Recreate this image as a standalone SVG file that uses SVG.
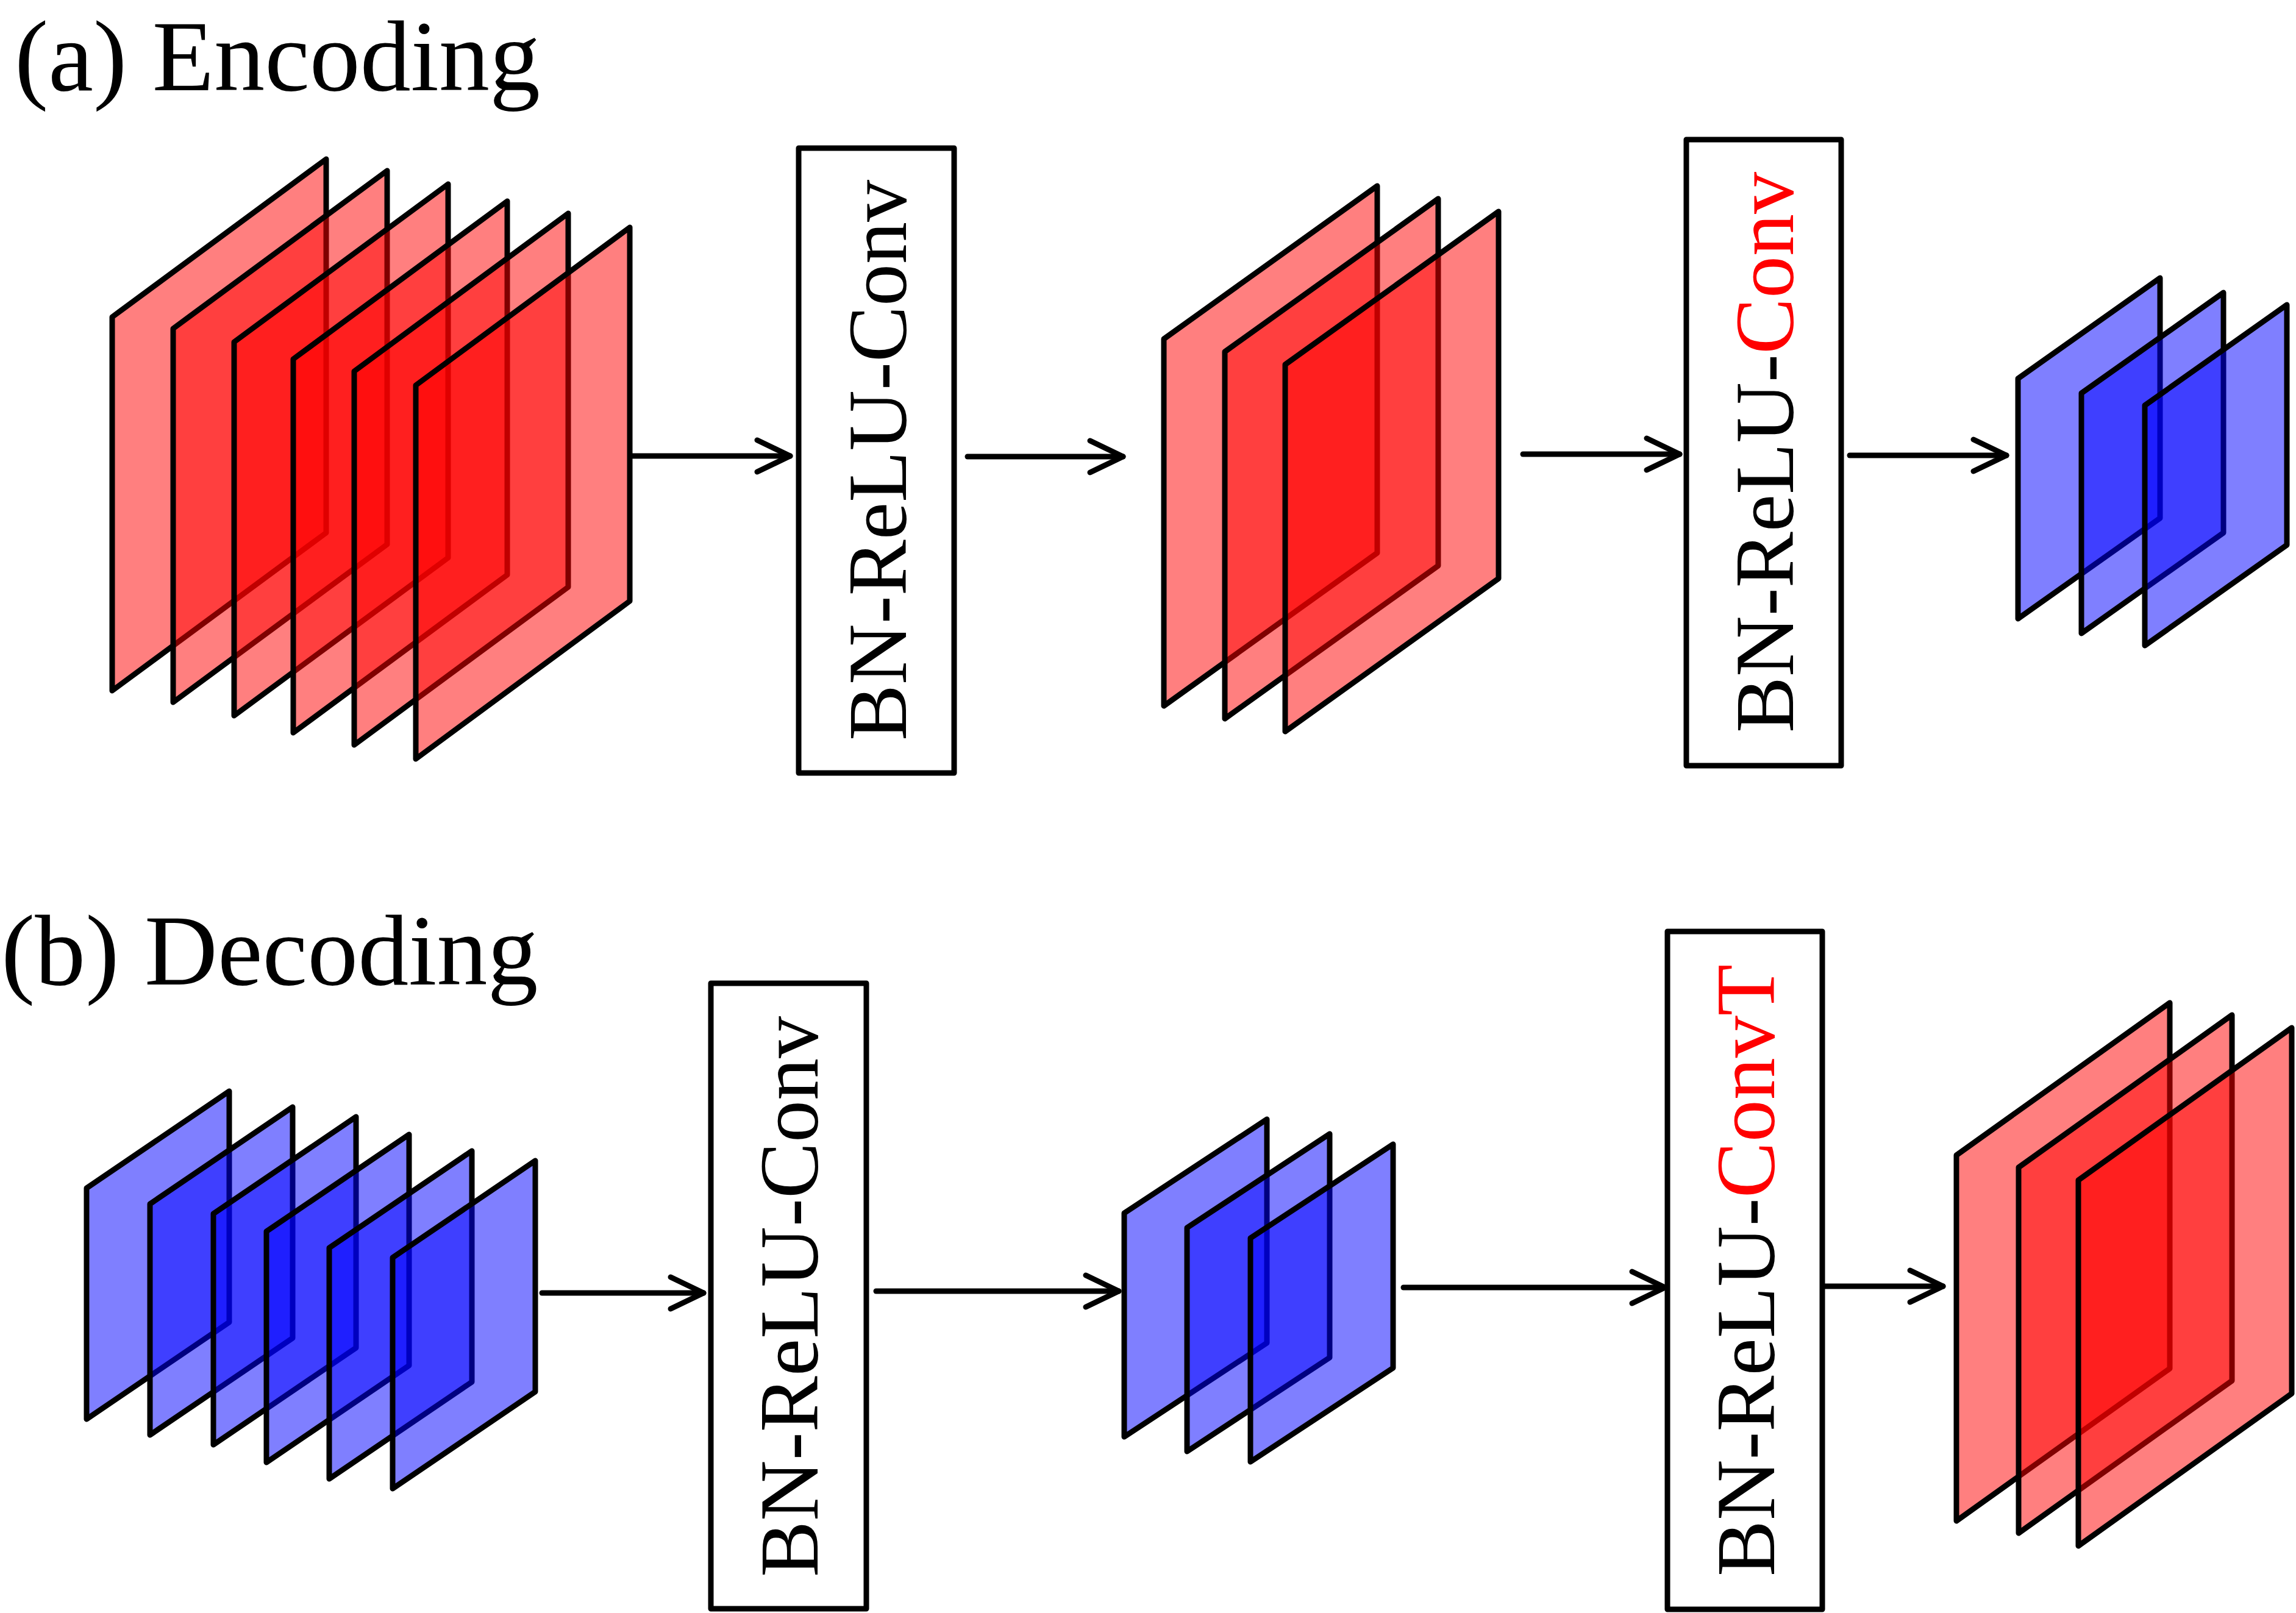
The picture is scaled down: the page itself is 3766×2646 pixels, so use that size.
<svg xmlns="http://www.w3.org/2000/svg" width="3766" height="2646" viewBox="0 0 3766 2646">
<style>
.pr{fill:#ff0000;fill-opacity:.5;stroke:#000;stroke-width:9;stroke-linejoin:round}
.pb{fill:#0000ff;fill-opacity:.5;stroke:#000;stroke-width:9;stroke-linejoin:round}
.box{fill:#fff;stroke:#000;stroke-width:9;stroke-linejoin:round}
.lbl{font-family:"Liberation Serif","Times New Roman",serif;font-size:138px;fill:#000}
.title{font-family:"Liberation Serif","Times New Roman",serif;font-size:166px;fill:#000}
.red{fill:#ff0000}
.conn{fill:none;stroke:#000;stroke-width:9;stroke-linecap:round;marker-end:url(#arr)}
</style>
<defs>
<marker id="arr" markerUnits="userSpaceOnUse" viewBox="-60 -32 66 64" markerWidth="66" markerHeight="64" refX="0" refY="0" orient="auto" overflow="visible">
<path d="M-54,-26 L0,0 L-54,26" fill="none" stroke="#000" stroke-width="9" stroke-linecap="round" stroke-linejoin="round"/>
</marker>
</defs>
<rect width="3766" height="2646" fill="#fff"/>
<text class="title" x="24" y="148">(a) Encoding</text>
<text class="title" x="2" y="1615">(b) Decoding</text>

<g id="enc-input">
<polygon class="pr" points="184,520 535,261 535,874 184,1133"/>
<polygon class="pr" points="284,539 635,280 635,893 284,1152"/>
<polygon class="pr" points="384,561 735,302 735,915 384,1174"/>
<polygon class="pr" points="481,589 832,330 832,943 481,1202"/>
<polygon class="pr" points="581,609 932,350 932,963 581,1222"/>
<polygon class="pr" points="682,632 1033,373 1033,986 682,1245"/>
</g>
<g id="enc-op1">
<rect class="box" x="1310" y="243" width="255" height="1025"/>
<text class="lbl" transform="translate(1486,755) rotate(-90)" text-anchor="middle">BN-ReLU-Conv</text>
</g>
<g id="enc-mid">
<polygon class="pr" points="1909,556 2259,305 2259,907 1909,1158"/>
<polygon class="pr" points="2009,577 2359,326 2359,928 2009,1179"/>
<polygon class="pr" points="2108,598 2458,347 2458,949 2108,1200"/>
</g>
<g id="enc-op2">
<rect class="box" x="2766" y="229" width="254" height="1027"/>
<text class="lbl" transform="translate(2941,742) rotate(-90)" text-anchor="middle">BN-ReLU-<tspan class="red">Conv</tspan></text>
</g>
<g id="enc-output">
<polygon class="pb" points="3310,621 3543,456 3543,850 3310,1015"/>
<polygon class="pb" points="3414,645 3647,480 3647,874 3414,1039"/>
<polygon class="pb" points="3518,665 3751,500 3751,894 3518,1059"/>
</g>

<g id="dec-input">
<polygon class="pb" points="142,1949 376,1790 376,2169 142,2328"/>
<polygon class="pb" points="246,1975 480,1816 480,2195 246,2354"/>
<polygon class="pb" points="350,1991 584,1832 584,2211 350,2370"/>
<polygon class="pb" points="437,2020 671,1861 671,2240 437,2399"/>
<polygon class="pb" points="540,2047 774,1888 774,2267 540,2426"/>
<polygon class="pb" points="644,2063 878,1904 878,2283 644,2442"/>
</g>
<g id="dec-op1">
<rect class="box" x="1166" y="1613" width="255" height="1026"/>
<text class="lbl" transform="translate(1341,2127) rotate(-90)" text-anchor="middle">BN-ReLU-Conv</text>
</g>
<g id="dec-mid">
<polygon class="pb" points="1844,1990 2078,1836 2078,2203 1844,2357"/>
<polygon class="pb" points="1947,2014 2181,1860 2181,2227 1947,2381"/>
<polygon class="pb" points="2051,2031 2285,1877 2285,2244 2051,2398"/>
</g>
<g id="dec-op2">
<rect class="box" x="2735" y="1528" width="254" height="1112"/>
<text class="lbl" transform="translate(2910,2084) rotate(-90)" text-anchor="middle">BN-ReLU-<tspan class="red">ConvT</tspan></text>
</g>
<g id="dec-output">
<polygon class="pr" points="3209,1895 3559,1645 3559,2245 3209,2495"/>
<polygon class="pr" points="3311,1915 3661,1665 3661,2265 3311,2515"/>
<polygon class="pr" points="3409,1936 3759,1686 3759,2286 3409,2536"/>
</g>

<g id="connectors">
<path class="conn" d="M1037,748 H1296"/>
<path class="conn" d="M1587,749 H1842"/>
<path class="conn" d="M2498,745 H2755"/>
<path class="conn" d="M3034,747 H3291"/>
<path class="conn" d="M889,2121 H1154"/>
<path class="conn" d="M1437,2118 H1835"/>
<path class="conn" d="M2302,2112 H2731"/>
<path class="conn" d="M2993,2110 H3187"/>
</g>
</svg>
